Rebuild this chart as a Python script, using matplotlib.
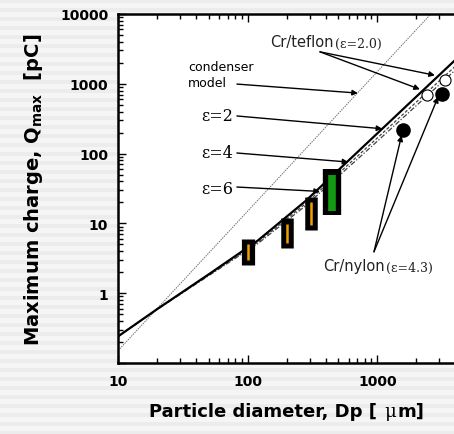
import numpy as np
import matplotlib
matplotlib.use('Agg')
import matplotlib.pyplot as plt
from matplotlib.ticker import FixedLocator, FixedFormatter, LogLocator, NullFormatter
from matplotlib.offsetbox import TextArea, HPacker, AnnotationBbox

# ---------------- data ----------------
curve_D = [10, 20, 50, 120, 280, 900, 3900, 6300]
q_eps2 = [0.24, 0.59, 1.86, 5.7, 21, 162, 2110, 4900]
q_eps4 = [0.24, 0.59, 1.82, 5.38, 19.2, 140, 1716, 3890]
q_eps6 = [0.24, 0.583, 1.78, 5.14, 17.9, 126, 1511, 3430]
cond_D = [10, 2600]
cond_Q = [0.15, 10100]

box_D = [100, 200, 310, 450]
box_lo = [2.55, 4.4, 8.1, 13.0]
box_hi = [6.0, 11.9, 23.8, 60.7]
bar_lo = [3.0, 5.3, 9.6, 15.3]
bar_hi = [5.1, 9.9, 20.2, 50.0]
bar_colors = ['#eea000', '#eea000', '#eea000', '#139a13']

teflon_D = [2410, 3320]
teflon_Q = [700, 1150]
nylon_D = [1575, 3180]
nylon_Q = [220, 723]

xticks = [10, 100, 1000, 10000]
xticklabels = ['10', '100', '1000', '']
yticks = [0.1, 1, 10, 100, 1000, 10000]
yticklabels = ['', '1', '10', '100', '1000', '10000']

# ---------------- figure ----------------
W, H = 454, 435
fig = plt.figure(figsize=(W / 100, H / 100), dpi=100)

# striped background
rows = np.arange(H)
vals = np.where((rows % 9) < 4, 0.925, 0.958)
bg = fig.add_axes([0, 0, 1, 1], zorder=-10)
bg.imshow(np.tile(vals[:, None], (1, 4)), aspect='auto', cmap='gray', vmin=0, vmax=1,
          interpolation='nearest')
bg.axis('off')

ax = fig.add_axes([118 / W, 71 / H, 389 / W, 349 / H])
ax.set_facecolor('white')
ax.set_xscale('log')
ax.set_yscale('log')
ax.set_xlim(10, 10000)
ax.set_ylim(0.1, 10000)

for s in ax.spines.values():
    s.set_linewidth(1.8)

ax.xaxis.set_major_locator(FixedLocator(xticks))
ax.xaxis.set_major_formatter(FixedFormatter(xticklabels))
ax.yaxis.set_major_locator(FixedLocator(yticks))
ax.yaxis.set_major_formatter(FixedFormatter(yticklabels))
ax.xaxis.set_minor_locator(LogLocator(base=10, subs=np.arange(2, 10)))
ax.yaxis.set_minor_locator(LogLocator(base=10, subs=np.arange(2, 10)))
ax.xaxis.set_minor_formatter(NullFormatter())
ax.yaxis.set_minor_formatter(NullFormatter())
ax.tick_params(which='both', direction='in', top=True, right=True, width=1)
ax.tick_params(which='major', length=6)
ax.tick_params(which='minor', length=3.5)
ax.tick_params(axis='x', pad=8)
ax.tick_params(axis='y', pad=7)
for lab in ax.get_xticklabels() + ax.get_yticklabels():
    lab.set_fontfamily('DejaVu Sans')
    lab.set_fontweight('bold')
    lab.set_fontsize(10)

# model curves
ax.plot(cond_D, cond_Q, color='#707070', lw=0.7, ls=(0, (1.5, 1)), zorder=2)
ax.plot(curve_D, q_eps6, color='#444444', lw=0.9, ls=(0, (4, 1.5, 1, 1.5)), zorder=2)
ax.plot(curve_D, q_eps4, color='#444444', lw=0.9, ls=(0, (2.5, 1.5)), zorder=2)
ax.plot(curve_D, q_eps2, color='black', lw=1.6, zorder=3)

# measured ranges
outer_w = [9.5, 9.0, 9.0, 13.2]
inner_w = [1.8, 1.8, 1.8, 5.5]
for i in range(len(box_D)):
    lc = ax.vlines(box_D[i], box_lo[i], box_hi[i], colors='black', lw=outer_w[i], zorder=5)
    lc.set_capstyle('butt')
    lc2 = ax.vlines(box_D[i], bar_lo[i], bar_hi[i], colors=bar_colors[i], lw=inner_w[i], zorder=6)
    lc2.set_capstyle('butt')

# markers
ax.plot(teflon_D, teflon_Q, 'o', ms=8, mfc='white', mec='black', mew=0.8, zorder=7)
ax.plot(nylon_D, nylon_Q, 'o', ms=9.5, mfc='black', mec='black', zorder=7)

# arrows (data coords)
ap = dict(arrowstyle='-|>', lw=1.0, color='black', mutation_scale=8, shrinkA=0, shrinkB=0)
arrows = [
    ((82.6, 991), (708, 736)),
    ((82.6, 346), (1091, 227)),
    ((82.6, 102), (597, 75.7)),
    ((82.6, 33.2), (361, 28.7)),
    ((361, 2870), (2780, 1325)),
    ((361, 2870), (2130, 834)),
    ((942, 3.92), (1538, 182)),
    ((942, 3.92), (2944, 649)),
]
for start, tip in arrows:
    ax.annotate('', xy=tip, xytext=start, xycoords='data', textcoords='data',
                arrowprops=ap, zorder=8, annotation_clip=False)

# labels
def fp(x, y):
    return (x, H - y)

ax.annotate('condenser\nmodel', xy=fp(188, 76), xycoords='figure pixels', ha='left',
            va='center', fontsize=9, family='DejaVu Sans', linespacing=1.3)
for txt, y in [('ε=2', 117), ('ε=4', 154), ('ε=6', 190)]:
    ax.annotate(txt, xy=fp(233, y), xycoords='figure pixels', ha='right', va='center',
                fontsize=11.5, family='DejaVu Serif')


def mixed(parts, xy, align=(0, 0.5)):
    areas = [TextArea(t, textprops=p) for t, p in parts]
    pack = HPacker(children=areas, align='baseline', pad=0, sep=1)
    ab = AnnotationBbox(pack, xy, xycoords='figure pixels', box_alignment=align,
                        frameon=False, pad=0)
    fig.add_artist(ab)


sans = dict(family='DejaVu Sans', size=10.5, color='#222222')
serif = dict(family='DejaVu Serif', size=9, color='#222222')
mixed([('Cr/teflon', sans), ('(ε=2.0)', serif)], fp(270, 43))
mixed([('Cr/nylon', sans), ('(ε=4.3)', serif)], fp(323, 267))

bold = dict(family='DejaVu Sans', size=13, weight='bold')
mixed([('Particle diameter, Dp [ ', bold), ('μ', dict(family='DejaVu Serif', size=13)),
       ('m]', bold)], fp(287, 412), align=(0.5, 0.5))

fig.text(34 / W, 1 - 190 / H, r'Maximum charge, Q$_{\mathbf{max}}$  [pC]', rotation=90,
         ha='center', va='center', fontsize=14, fontweight='bold', family='DejaVu Sans')

fig.savefig('out.png', dpi=100)
